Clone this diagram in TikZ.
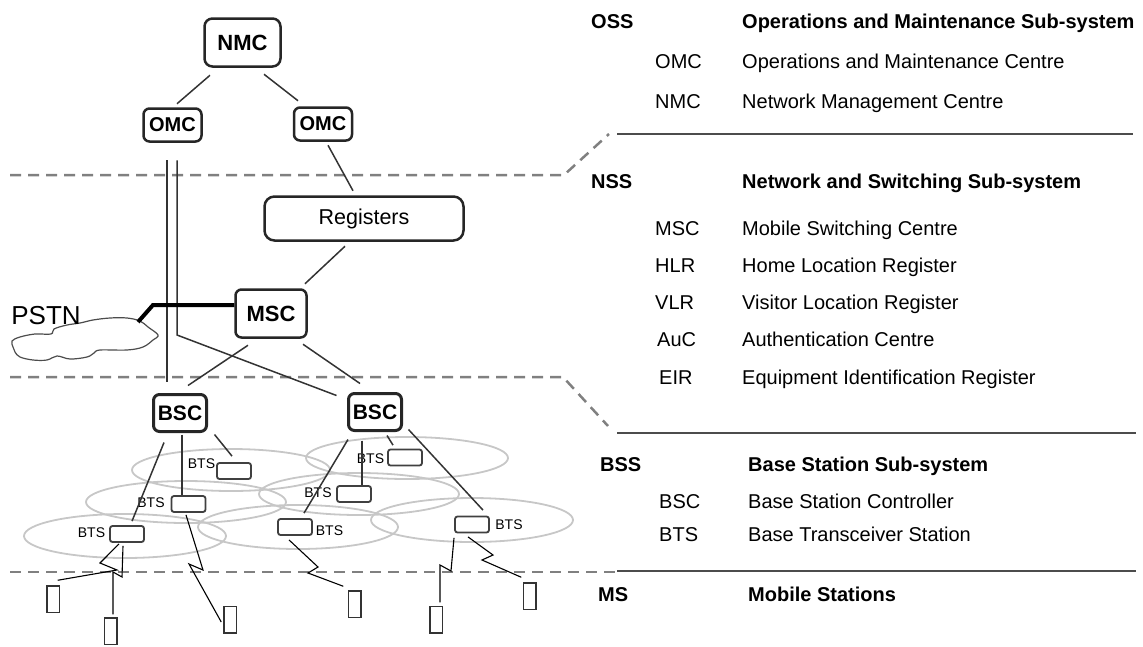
\documentclass[tikz,border=0pt]{standalone}
\usepackage{fontspec}
\setmainfont{Liberation Sans}
\begin{document}
\begin{tikzpicture}[x=1pt,y=-1pt,
  box/.style={draw=black!85, line width=2.5pt, rounded corners=6pt, fill=white, inner sep=0pt, font=\fontsize{21}{24}\selectfont\bfseries},
  bscbox/.style={box, line width=3pt, minimum width=53pt, minimum height=37pt},
  btsbox/.style={draw=black!75, line width=1.8pt, rounded corners=2.5pt, minimum width=34pt, minimum height=16pt, inner sep=0pt, fill=white},
  btslabel/.style={font=\fontsize{14}{16}\selectfont, inner sep=0pt},
  mob/.style={draw=black!80, line width=1.5pt, minimum width=12.5pt, minimum height=26.5pt, inner sep=0pt},
  conn/.style={draw=black!80, line width=1.5pt},
  radio/.style={draw=black, line width=1.1pt},
  cell/.style={draw=black!22, line width=1.8pt},
  sep/.style={draw=black!50, line width=2.5pt, dash pattern=on 11pt off 7pt},
  rulel/.style={draw=black!70, line width=1.5pt},
  txt/.style={anchor=base west, font=\fontsize{20}{24}\selectfont, inner sep=0pt},
  head/.style={anchor=base west, font=\fontsize{20}{24}\selectfont\bfseries, inner sep=0pt}]
\useasboundingbox (0,0) rectangle (1143,646);

% cells
\draw[cell] (231,470) ellipse [x radius=99pt, y radius=21pt];
\draw[cell] (186,502) ellipse [x radius=100pt, y radius=21pt];
\draw[cell] (125,536) ellipse [x radius=101pt, y radius=22pt];
\draw[cell] (298,527) ellipse [x radius=100pt, y radius=22pt];
\draw[cell] (359,494) ellipse [x radius=100pt, y radius=21pt];
\draw[cell] (407,458) ellipse [x radius=101pt, y radius=21pt];
\draw[cell] (472,520) ellipse [x radius=101pt, y radius=22pt];

% separators
\draw[sep] (10,175) -- (564,175) -- (609,134);
\draw[rulel] (617,134) -- (1133,134);
\draw[sep] (10,377) -- (563,377) -- (608,426);
\draw[rulel] (617,433) -- (1136,433);
\draw[sep] (10,572) -- (617,572);
\draw[rulel] (617,571) -- (1136,571);

% cloud
\draw[line width=1.2pt, draw=black!70, fill=white] plot[smooth cycle, tension=0.6] coordinates {
 (13,347) (12,341) (20,337) (35,334) (51,334) (54,329) (67,325) (80,323) (93,320) (110,318)
 (127,318) (140,321) (148,327) (158,335) (153,340) (143,347) (127,350) (100,350) (94,353)
 (87,357) (70,359) (57,356) (47,360) (33,360) (20,357) (15,352)};
\node[font=\fontsize{26}{28}\selectfont, inner sep=0pt] (pstn) at (46,316) {PSTN};
\coordinate (pstnc) at (138,322);

% main nodes
\node[box, minimum width=76pt, minimum height=48pt, rounded corners=8pt, font=\fontsize{22}{24}\selectfont\bfseries] (nmc) at (242.5,42.5) {NMC};
\node[box, minimum width=58pt, minimum height=33pt, font=\fontsize{20}{24}\selectfont\bfseries] (omc1) at (172.5,125) {OMC};
\node[box, minimum width=58pt, minimum height=33pt, font=\fontsize{20}{24}\selectfont\bfseries] (omc2) at (323,124) {OMC};
\node[box, minimum width=199pt, minimum height=44pt, rounded corners=10pt, font=\fontsize{21.5}{24}\selectfont] (reg) at (364,218.5) {Registers};
\node[box, minimum width=71pt, minimum height=48pt, font=\fontsize{22}{24}\selectfont\bfseries] (msc) at (271,313.5) {MSC};
\node[bscbox] (bsc1) at (180,413) {BSC};
\node[bscbox] (bsc2) at (375,412) {BSC};

% BTS
\node[btsbox] (btsA) at (234,471) {};
\node[btsbox] (btsB) at (188.5,504) {};
\node[btsbox] (btsC) at (127,534) {};
\node[btsbox] (btsD) at (405,457.5) {};
\node[btsbox] (btsE) at (354,494) {};
\node[btsbox] (btsF) at (295,527) {};
\node[btsbox] (btsG) at (472,524.5) {};
\node[btslabel] (lA) at (201.5,464) {BTS};
\node[btslabel] (lB) at (151,502.5) {BTS};
\node[btslabel] (lC) at (91.5,533) {BTS};
\node[btslabel] (lD) at (370.5,459) {BTS};
\node[btslabel] (lE) at (318,493) {BTS};
\node[btslabel] (lF) at (329.5,531) {BTS};
\node[btslabel] (lG) at (509,525) {BTS};

% mobiles
\node[mob] (m1) at (53,599) {};
\node[mob] (m2) at (110.5,631) {};
\node[mob] (m3) at (230,619.5) {};
\node[mob] (m4) at (354.5,604) {};
\node[mob] (m5) at (436,619.5) {};
\node[mob] (m6) at (529.5,596) {};

% connectors
\draw[conn] ([xshift=-32.5pt,yshift=-7.5pt]nmc.south) -- ([xshift=4.5pt,yshift=3.5pt]omc1.north);
\draw[conn] ([xshift=21.5pt,yshift=-6.5pt]nmc.south) -- ([xshift=-25pt,yshift=5.5pt]omc2.north);
\draw[conn] ([xshift=5pt,yshift=-3.5pt]omc2.south) -- ([xshift=-11pt,yshift=4.5pt]reg.north);
\draw[conn] ([xshift=-19pt,yshift=-4.5pt]reg.south) -- ([xshift=34pt,yshift=4.5pt]msc.north);
\draw[conn] ([xshift=-23pt,yshift=-6.5pt]msc.south) -- ([xshift=8pt,yshift=7.5pt]bsc1.north);
\draw[conn] ([xshift=32pt,yshift=-5.5pt]msc.south) -- ([xshift=-15pt,yshift=8.5pt]bsc2.north);
\draw[conn] ([xshift=-5.5pt,yshift=-17.5pt]omc1.south) -- ([xshift=-13pt,yshift=11.5pt]bsc1.north);
\coordinate (bend) at (177,335);
\draw[conn] ([xshift=4.5pt,yshift=-17.5pt]omc1.south) -- (bend) -- ([xshift=-10.5pt,yshift=-3.5pt]bsc2.north west);
\draw[line width=4pt, line join=miter] ([yshift=8.5pt]msc.west) -- (153,305) -- (pstnc);

% BSC to BTS
\draw[conn] ([xshift=6.5pt,yshift=-1.5pt]bsc1.south east) -- ([xshift=-2pt,yshift=6pt]btsA.north);
\draw[conn] ([xshift=2pt,yshift=-1.5pt]bsc1.south) coordinate (tb) -- (tb |- btsB.north);
\draw[conn] ([xshift=-16pt,yshift=-9.5pt]bsc1.south) -- ([xshift=5pt,yshift=4pt]btsC.north);
\draw[conn] ([xshift=12pt,yshift=-3.5pt]bsc2.south) -- ([xshift=-12pt,yshift=3.5pt]btsD.north);
\draw[conn] ([xshift=-13pt,yshift=-8.5pt]bsc2.south) coordinate (te) -- (te |- btsE.north);
\draw[conn] ([xshift=-27pt,yshift=-7.5pt]bsc2.south) -- ([xshift=9pt,yshift=5pt]btsF.north);
\draw[conn] ([xshift=5.5pt,yshift=2.5pt]bsc2.south east) -- ([xshift=11pt,yshift=5.5pt]btsG.north);

% radio links
\draw[radio] ([xshift=-8pt,yshift=-1pt]btsC.south) -- (100,563) -- (117,570) -- ([xshift=-2.25pt,yshift=4.75pt]m1.north east);
\draw[radio] ([xshift=-4pt,yshift=-3pt]btsC.south) -- (122,577) -- (113,572) -- ([xshift=2.5pt,yshift=2.75pt]m2.north);
\draw[radio] ([xshift=-2.5pt,yshift=-2pt]btsB.south) -- (203,570) -- (189,564) -- ([xshift=-1.75pt,yshift=-2.5pt]m3.west);
\draw[radio] ([xshift=-6pt,yshift=-4pt]btsF.south) -- (318,567) -- (308,573) -- ([xshift=-4.25pt,yshift=3.75pt]m4.north west);
\draw[radio] ([xshift=-18pt,yshift=-4.5pt]btsG.south) -- (451,571) -- (440,565) -- ([xshift=4pt,yshift=3.25pt]m5.north);
\draw[radio] ([xshift=-4pt,yshift=-3.5pt]btsG.south) -- (493,555) -- (482,560) -- ([xshift=-1.25pt,yshift=4.75pt]m6.north west);

% legend
\node[head] (h1) at (591,28) {OSS};
\node[head] (h1d) at (742,28) {Operations and Maintenance Sub-system};
\node[txt] (a1) at (655,68) {OMC};
\node[txt] (a1d) at (742,68) {Operations and Maintenance Centre};
\node[txt] (a2) at (655,108) {NMC};
\node[txt] (a2d) at (742,108) {Network Management Centre};

\node[head] (h2) at (591,188) {NSS};
\node[head] (h2d) at (742,188) {Network and Switching Sub-system};
\node[txt] (b1) at (655,235) {MSC};
\node[txt] (b1d) at (742,235) {Mobile Switching Centre};
\node[txt] (b2) at (655,272) {HLR};
\node[txt] (b2d) at (742,272) {Home Location Register};
\node[txt] (b3) at (655,309) {VLR};
\node[txt] (b3d) at (742,309) {Visitor Location Register};
\node[txt] (b4) at (657,346) {AuC};
\node[txt] (b4d) at (742,346) {Authentication Centre};
\node[txt] (b5) at (659,384) {EIR};
\node[txt] (b5d) at (742,384) {Equipment Identification Register};

\node[head] (h3) at (600,471) {BSS};
\node[head] (h3d) at (748,471) {Base Station Sub-system};
\node[txt] (c1) at (659,508) {BSC};
\node[txt] (c1d) at (748,508) {Base Station Controller};
\node[txt] (c2) at (659,541) {BTS};
\node[txt] (c2d) at (748,541) {Base Transceiver Station};

\node[head] (h4) at (598,601) {MS};
\node[head] (h4d) at (748,601) {Mobile Stations};
\end{tikzpicture}
\end{document}
